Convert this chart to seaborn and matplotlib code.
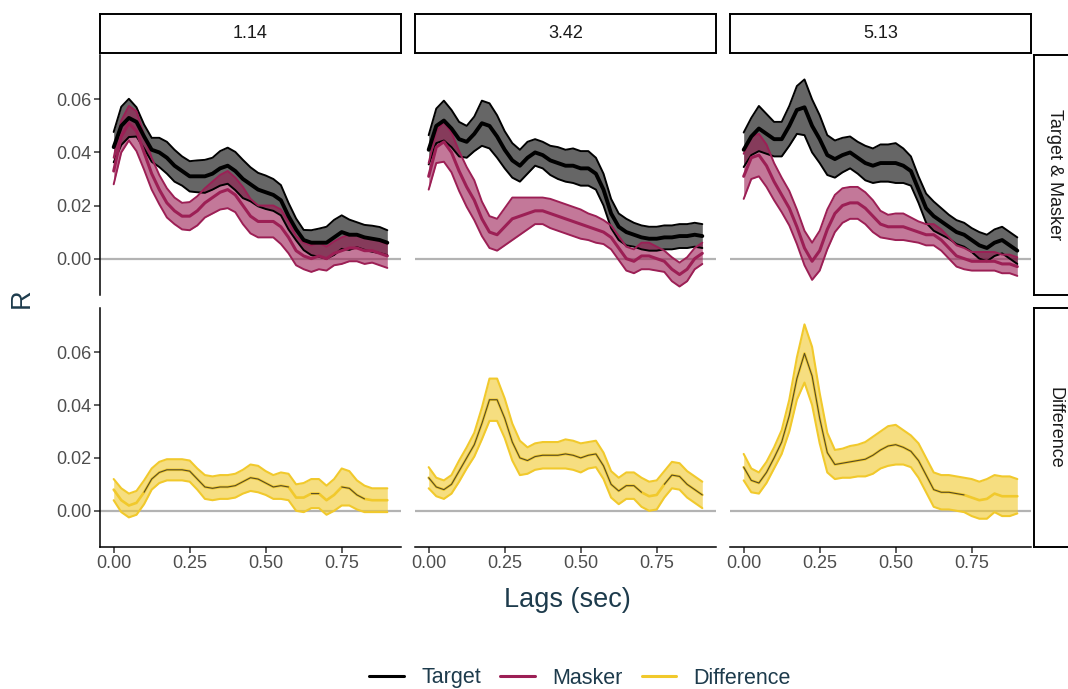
import numpy as np
import pandas as pd
import matplotlib
matplotlib.use("Agg")
import matplotlib.pyplot as plt
import seaborn as sns
from matplotlib.lines import Line2D

# ---------------- data ----------------
lags = np.round(np.arange(37) * 0.025, 3)
col_labels = ["1.14", "3.42", "5.13"]
row_labels = ["Target & Masker", "Difference"]
y_ticks = [0.00, 0.02, 0.04, 0.06]
x_ticks = [0.00, 0.25, 0.50, 0.75]

target_mean_114 = [0.042, 0.050, 0.053, 0.0515, 0.046, 0.041, 0.040, 0.038, 0.035, 0.033,
                   0.031, 0.031, 0.031, 0.032, 0.034, 0.035, 0.033, 0.030, 0.028, 0.026,
                   0.025, 0.024, 0.022, 0.016, 0.011, 0.007, 0.006, 0.006, 0.006, 0.008,
                   0.010, 0.009, 0.009, 0.008, 0.0075, 0.007, 0.006]
target_se_114 = [0.0057, 0.0072, 0.0072, 0.0055, 0.0045, 0.0045, 0.0055, 0.006, 0.006, 0.0055,
                 0.0057, 0.006, 0.0062, 0.006, 0.0065, 0.0068, 0.0072, 0.0072, 0.0064, 0.0063,
                 0.0063, 0.006, 0.0057, 0.005, 0.0041, 0.0038, 0.0047, 0.0053, 0.006, 0.0066,
                 0.0063, 0.0057, 0.0047, 0.0047, 0.0049, 0.0049, 0.0047]
masker_mean_114 = [0.033, 0.046, 0.051, 0.048, 0.040, 0.032, 0.026, 0.021, 0.018, 0.016,
                   0.016, 0.018, 0.021, 0.023, 0.025, 0.026, 0.024, 0.020, 0.016, 0.014,
                   0.014, 0.014, 0.012, 0.008, 0.003, 0.001, 0.000, 0.001, 0.000, 0.002,
                   0.003, 0.004, 0.004, 0.003, 0.003, 0.002, 0.001]
masker_se_114 = [0.005, 0.006, 0.0065, 0.0075, 0.0065, 0.006, 0.0055, 0.0055, 0.005, 0.005,
                 0.0053, 0.0055, 0.0055, 0.006, 0.0065, 0.007, 0.0065, 0.007, 0.0065, 0.006,
                 0.006, 0.006, 0.0065, 0.006, 0.0055, 0.005, 0.005, 0.005, 0.0045, 0.0045,
                 0.005, 0.005, 0.005, 0.005, 0.0045, 0.0045, 0.0045]

target_mean_342 = [0.041, 0.050, 0.052, 0.049, 0.045, 0.044, 0.047, 0.051, 0.050, 0.046,
                   0.041, 0.037, 0.035, 0.038, 0.040, 0.039, 0.037, 0.036, 0.035, 0.035,
                   0.034, 0.034, 0.032, 0.026, 0.017, 0.012, 0.010, 0.009, 0.008, 0.0075,
                   0.0075, 0.008, 0.008, 0.0085, 0.0085, 0.009, 0.0085]
target_se_342 = [0.0055, 0.0065, 0.0075, 0.007, 0.0065, 0.006, 0.0065, 0.0085, 0.0085, 0.008,
                 0.007, 0.0065, 0.006, 0.006, 0.005, 0.005, 0.0055, 0.006, 0.006, 0.0065,
                 0.0065, 0.0065, 0.006, 0.006, 0.0055, 0.005, 0.005, 0.0045, 0.0045, 0.0045,
                 0.0045, 0.0045, 0.0045, 0.0045, 0.0045, 0.0045, 0.0045]
masker_mean_342 = [0.031, 0.042, 0.044, 0.040, 0.033, 0.027, 0.022, 0.015, 0.010, 0.009,
                   0.012, 0.015, 0.016, 0.017, 0.018, 0.018, 0.017, 0.016, 0.015, 0.014,
                   0.013, 0.012, 0.011, 0.010, 0.008, 0.004, 0.000, -0.001, 0.001, 0.001,
                   0.000, -0.001, -0.004, -0.006, -0.004, 0.000, 0.002]
masker_se_342 = [0.005, 0.006, 0.0075, 0.0075, 0.0075, 0.0075, 0.0075, 0.0065, 0.006, 0.006,
                 0.007, 0.008, 0.007, 0.006, 0.005, 0.005, 0.0055, 0.0055, 0.0055, 0.0055,
                 0.0055, 0.005, 0.005, 0.0045, 0.0045, 0.0045, 0.0045, 0.0045, 0.005, 0.005,
                 0.0045, 0.004, 0.0045, 0.0045, 0.0045, 0.004, 0.004]

target_mean_513 = [0.041, 0.046, 0.049, 0.047, 0.045, 0.045, 0.050, 0.056, 0.057, 0.050,
                   0.045, 0.039, 0.0375, 0.039, 0.040, 0.038, 0.036, 0.035, 0.036, 0.036,
                   0.036, 0.035, 0.033, 0.026, 0.019, 0.016, 0.014, 0.012, 0.010, 0.009,
                   0.007, 0.005, 0.004, 0.006, 0.007, 0.005, 0.003]
target_se_513 = [0.0065, 0.007, 0.0085, 0.0075, 0.0065, 0.0065, 0.0075, 0.009, 0.0105, 0.010,
                 0.009, 0.0075, 0.007, 0.0065, 0.006, 0.006, 0.0065, 0.0065, 0.007, 0.007,
                 0.0075, 0.0065, 0.0055, 0.005, 0.0055, 0.0055, 0.005, 0.0045, 0.0045, 0.0045,
                 0.0045, 0.005, 0.005, 0.005, 0.005, 0.005, 0.005]
masker_mean_513 = [0.031, 0.038, 0.039, 0.035, 0.029, 0.024, 0.019, 0.012, 0.004, -0.001,
                   0.003, 0.011, 0.017, 0.020, 0.021, 0.021, 0.019, 0.016, 0.013, 0.012,
                   0.012, 0.012, 0.011, 0.010, 0.009, 0.009, 0.007, 0.004, 0.001, 0.000,
                   -0.001, -0.001, -0.001, -0.001, -0.002, -0.002, -0.003]
masker_se_513 = [0.0085, 0.008, 0.008, 0.008, 0.007, 0.0065, 0.0065, 0.0065, 0.0065, 0.007,
                 0.0075, 0.0075, 0.007, 0.0065, 0.006, 0.006, 0.006, 0.006, 0.005, 0.0045,
                 0.005, 0.005, 0.0045, 0.004, 0.004, 0.004, 0.004, 0.004, 0.004, 0.004,
                 0.0035, 0.0035, 0.0035, 0.0035, 0.0035, 0.0035, 0.0035]

diff_mean_114 = [0.008, 0.004, 0.002, 0.003, 0.007, 0.012, 0.0145, 0.0155, 0.0155, 0.0155,
                 0.015, 0.012, 0.009, 0.0085, 0.009, 0.009, 0.0095, 0.011, 0.0125, 0.012,
                 0.0105, 0.009, 0.0095, 0.009, 0.005, 0.005, 0.0065, 0.0065, 0.004, 0.006,
                 0.009, 0.0085, 0.006, 0.0045, 0.004, 0.004, 0.004]
diff_se_114 = [0.004, 0.0045, 0.0045, 0.0045, 0.0045, 0.004, 0.004, 0.004, 0.004, 0.004,
               0.004, 0.004, 0.0045, 0.0045, 0.0045, 0.0045, 0.0045, 0.0045, 0.005, 0.005,
               0.0045, 0.0045, 0.005, 0.005, 0.005, 0.0055, 0.0055, 0.0055, 0.0055, 0.006,
               0.007, 0.0065, 0.0055, 0.005, 0.0045, 0.0045, 0.0045]
diff_sig_114 = [1, 0, 0, 0, 1, 1, 1, 1, 1, 1, 1, 1, 1, 1, 1, 1, 1, 1, 1, 1,
                1, 1, 1, 1, 0, 0, 1, 1, 0, 0, 1, 1, 1, 1, 0, 0, 0]

diff_mean_342 = [0.0125, 0.009, 0.008, 0.010, 0.015, 0.020, 0.025, 0.033, 0.042, 0.042,
                 0.035, 0.026, 0.020, 0.019, 0.0205, 0.021, 0.021, 0.021, 0.0215, 0.021,
                 0.020, 0.021, 0.0215, 0.017, 0.010, 0.0075, 0.0095, 0.0095, 0.007, 0.0055,
                 0.006, 0.010, 0.0135, 0.013, 0.010, 0.008, 0.006]
diff_se_342 = [0.004, 0.0035, 0.0035, 0.0035, 0.004, 0.004, 0.0045, 0.006, 0.008, 0.008,
               0.0075, 0.007, 0.0065, 0.005, 0.005, 0.005, 0.005, 0.005, 0.0055, 0.0055,
               0.0055, 0.005, 0.005, 0.005, 0.005, 0.005, 0.005, 0.005, 0.0055, 0.0055,
               0.0055, 0.005, 0.005, 0.005, 0.005, 0.005, 0.005]
diff_sig_342 = [1, 1, 1, 1, 1, 1, 1, 1, 1, 1, 1, 1, 1, 1, 1, 1, 1, 1, 1, 1,
                1, 1, 1, 1, 1, 1, 1, 1, 1, 0, 0, 1, 1, 1, 1, 1, 1]

diff_mean_513 = [0.0165, 0.0115, 0.0105, 0.0145, 0.020, 0.026, 0.036, 0.050, 0.0595, 0.051,
                 0.035, 0.022, 0.0175, 0.018, 0.0185, 0.019, 0.0195, 0.021, 0.023, 0.0245,
                 0.025, 0.024, 0.0225, 0.019, 0.0135, 0.008, 0.007, 0.007, 0.0065, 0.006,
                 0.005, 0.004, 0.0045, 0.0065, 0.0055, 0.0055, 0.0055]
diff_se_513 = [0.005, 0.0045, 0.004, 0.004, 0.004, 0.0045, 0.006, 0.008, 0.011, 0.011,
               0.0095, 0.0075, 0.0055, 0.0055, 0.006, 0.006, 0.0065, 0.007, 0.007, 0.0075,
               0.0075, 0.0065, 0.006, 0.0065, 0.0065, 0.0065, 0.0065, 0.0065, 0.0065, 0.0065,
               0.007, 0.007, 0.0075, 0.007, 0.0075, 0.0075, 0.0065]
diff_sig_513 = [1, 1, 1, 1, 1, 1, 1, 1, 1, 1, 1, 1, 1, 1, 1, 1, 1, 1, 1, 1,
                1, 1, 1, 1, 1, 1, 1, 1, 1, 1, 0, 0, 0, 0, 0, 0, 0]

series_names = ["Target", "Masker", "Difference"]

# ---------------- style ----------------
C_TARGET = "#000000"
C_MASKER = "#9C1F55"
C_DIFF = "#F1C92C"
TXT = "#1D3B4C"
TICK = "#4D4D4D"

sns.set_theme(style="white")
plt.rcParams["font.family"] = ["Liberation Sans", "DejaVu Sans"]

W, H = 1068, 689
fig = plt.figure(figsize=(W / 100, H / 100), dpi=100)


def fx(px):
    return px / W


def fy(py):
    return 1 - py / H


col_left = [100, 415, 730]
pw = 301
row_tb = [(55, 295), (308, 547)]
XLIM = (-0.045, 0.945)
YLIM = (-0.0137, 0.0767)


def ribbon(ax, mean, se, color, mean_lw, edge_lw=1.4, alpha=0.6, mean_color=None):
    m = np.asarray(mean, float)
    s = np.asarray(se, float)
    ax.fill_between(lags, m - s, m + s, color=color, alpha=alpha, lw=0, zorder=2)
    for yy in (m - s, m + s):
        sns.lineplot(x=lags, y=yy, ax=ax, color=color, lw=edge_lw, zorder=3,
                     estimator=None, sort=False)
    sns.lineplot(x=lags, y=m, ax=ax, color=mean_color or color, lw=mean_lw, zorder=4,
                 estimator=None, sort=False)


top_data = [
    (target_mean_114, target_se_114, masker_mean_114, masker_se_114),
    (target_mean_342, target_se_342, masker_mean_342, masker_se_342),
    (target_mean_513, target_se_513, masker_mean_513, masker_se_513),
]
bot_data = [
    (diff_mean_114, diff_se_114, diff_sig_114),
    (diff_mean_342, diff_se_342, diff_sig_342),
    (diff_mean_513, diff_se_513, diff_sig_513),
]

for r, (t, b) in enumerate(row_tb):
    for c, l in enumerate(col_left):
        ax = fig.add_axes([fx(l), fy(b), pw / W, (b - t) / H])
        ax.set_facecolor("white")
        ax.axhline(0, color="#B3B3B3", lw=1.6, zorder=1)
        if r == 0:
            tm, ts, mm, ms = top_data[c]
            ribbon(ax, tm, ts, C_TARGET, 2.8)
            ribbon(ax, mm, ms, C_MASKER, 2.2, alpha=0.6)
        else:
            dm, ds, sig = bot_data[c]
            ribbon(ax, dm, ds, C_DIFF, 1.9, edge_lw=1.5, alpha=0.6)
            dsig = np.where(np.asarray(sig) == 1, np.asarray(dm, float), np.nan)
            ax.plot(lags, dsig, color="#3A3526", lw=0.8, alpha=0.85, zorder=5)
        ax.set_xlim(*XLIM)
        ax.set_ylim(*YLIM)
        ax.set_xlabel("")
        ax.set_ylabel("")
        for sp in ax.spines.values():
            sp.set_visible(False)
            sp.set_linewidth(1.1)
            sp.set_color("black")
        ax.tick_params(length=4, width=1.1, color="#333333", labelsize=13,
                       labelcolor=TICK, pad=2)
        if c == 0:
            ax.spines["left"].set_visible(True)
            ax.set_yticks(y_ticks)
            ax.set_yticklabels([f"{v:.2f}" for v in y_ticks])
            ax.tick_params(axis="y", left=True)
        else:
            ax.set_yticks([])
        if r == 1:
            ax.spines["bottom"].set_visible(True)
            ax.set_xticks(x_ticks)
            ax.set_xticklabels([f"{v:.2f}" for v in x_ticks])
            ax.tick_params(axis="x", bottom=True)
        else:
            ax.set_xticks([])
        if ax.get_legend() is not None:
            ax.get_legend().remove()

# top strips
for c, l in enumerate(col_left):
    sax = fig.add_axes([fx(l), fy(53), pw / W, 39 / H])
    sax.set_xticks([]); sax.set_yticks([])
    sax.set_facecolor("white")
    for sp in sax.spines.values():
        sp.set_visible(True); sp.set_linewidth(1.4); sp.set_color("black")
    sax.text(0.5, 0.5, col_labels[c], ha="center", va="center", fontsize=13,
             color="#1A1A1A", transform=sax.transAxes)

# right strips
for r, (t, b) in enumerate(row_tb):
    sax = fig.add_axes([fx(1034), fy(b), 50 / W, (b - t) / H])
    sax.set_xticks([]); sax.set_yticks([])
    sax.set_facecolor("white")
    for sp in sax.spines.values():
        sp.set_visible(True); sp.set_linewidth(1.4); sp.set_color("black")
    sax.text(21 / 50, 0.5, row_labels[r], ha="center", va="center", fontsize=13,
             rotation=-90, color="#1A1A1A", transform=sax.transAxes)

fig.text(fx(567), fy(600), "Lags (sec)", ha="center", va="center", fontsize=19.5, color=TXT)
fig.text(fx(22), fy(298), "R", ha="center", va="center", fontsize=19.5, color=TXT, rotation=90)

handles = [Line2D([0], [0], color=col, lw=2.2) for col in (C_TARGET, C_MASKER, C_DIFF)]
leg = fig.legend(handles, series_names, loc="center", bbox_to_anchor=(fx(580), fy(678)),
                 ncol=3, frameon=False, fontsize=15.5, handlelength=1.6,
                 handletextpad=0.8, columnspacing=0.9)
for tx in leg.get_texts():
    tx.set_color(TXT)

fig.savefig("out.png", dpi=100)
